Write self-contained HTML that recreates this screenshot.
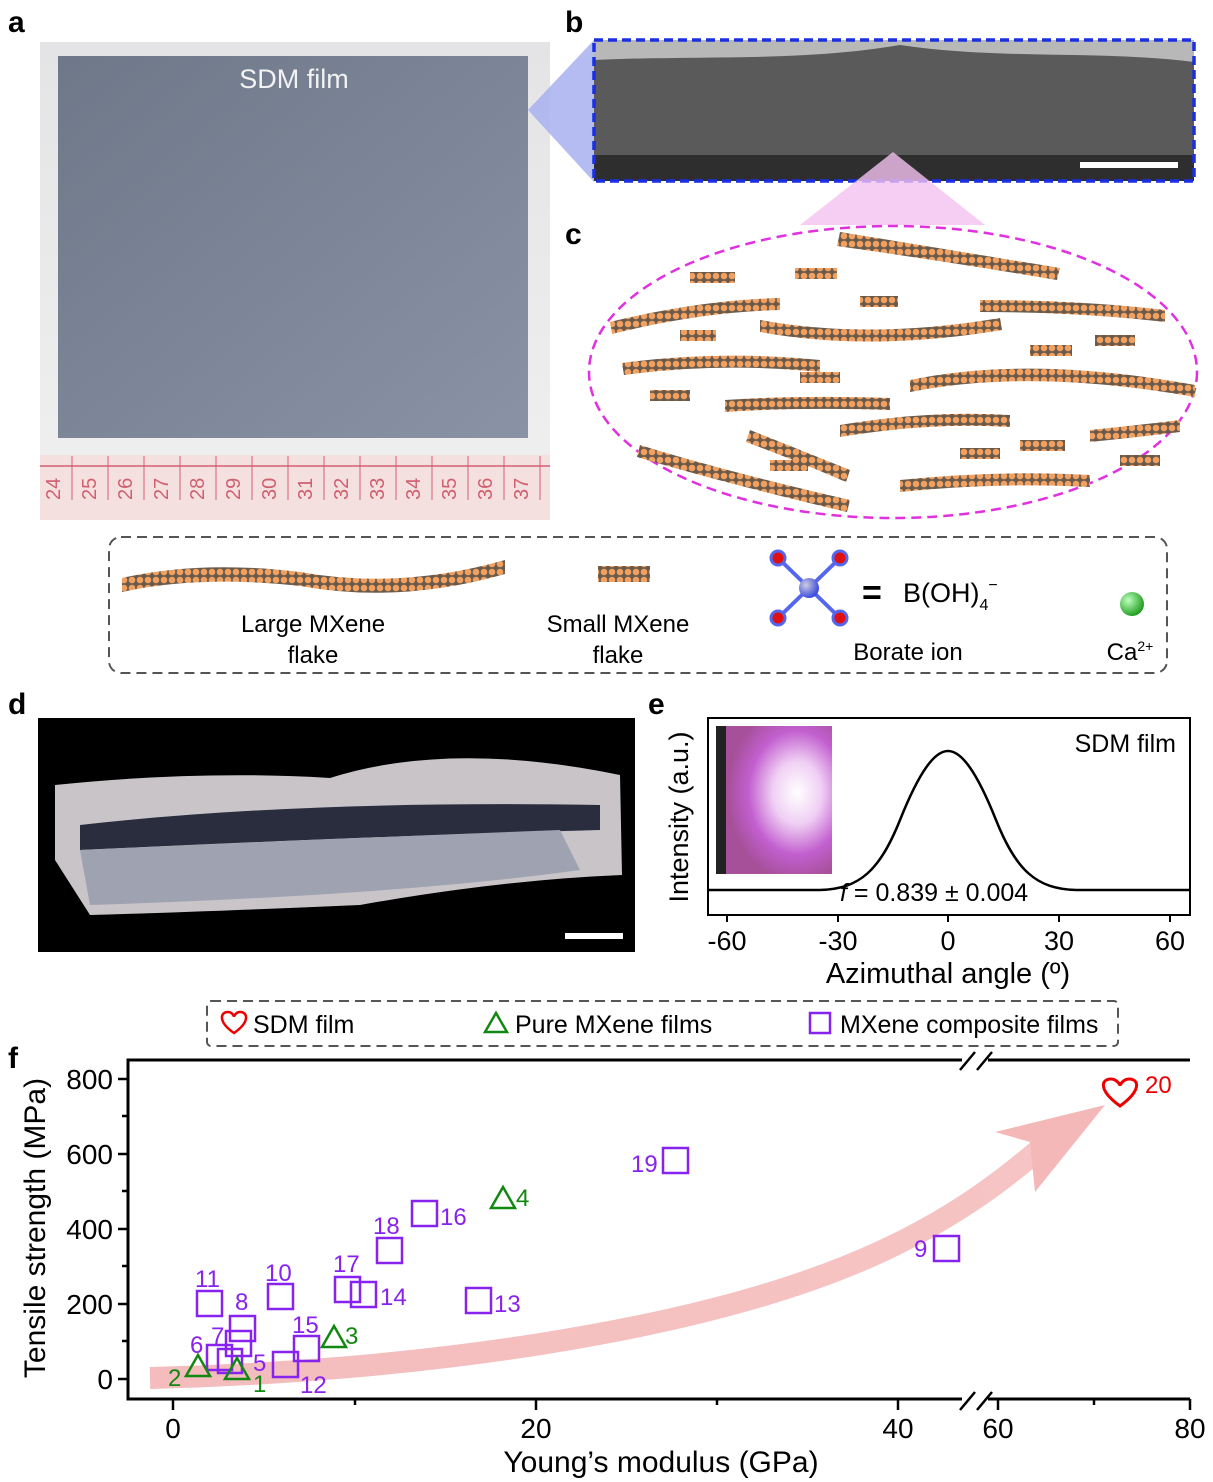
<!DOCTYPE html>
<html><head><meta charset="utf-8"><style>
body{margin:0;background:#fff;}
svg{display:block;font-family:"Liberation Sans",Arial,sans-serif;}
</style></head><body>
<svg width="1213" height="1482" viewBox="0 0 1213 1482" xmlns="http://www.w3.org/2000/svg">
<defs>
<linearGradient id="film" x1="0" y1="0" x2="1" y2="1"><stop offset="0" stop-color="#6e7889"/><stop offset="1" stop-color="#8993a5"/></linearGradient>
<linearGradient id="photobg" x1="0" y1="0" x2="0" y2="1"><stop offset="0" stop-color="#e4e4e6"/><stop offset="1" stop-color="#f1f0f0"/></linearGradient>
<linearGradient id="arr" x1="0" y1="0" x2="1" y2="0"><stop offset="0" stop-color="#f4bcbc"/><stop offset="1" stop-color="#f6c4c4"/></linearGradient>
<radialGradient id="inset" cx="0.7" cy="0.45" r="0.6"><stop offset="0" stop-color="#fff"/><stop offset="0.35" stop-color="#f0d0f4"/><stop offset="0.7" stop-color="#c25fcf"/><stop offset="1" stop-color="#a6509a"/></radialGradient>
<radialGradient id="ca" cx="0.35" cy="0.35" r="0.7"><stop offset="0" stop-color="#bfffbf"/><stop offset="1" stop-color="#1a9a1a"/></radialGradient>
<radialGradient id="bo" cx="0.35" cy="0.35" r="0.7"><stop offset="0" stop-color="#ccd"/><stop offset="1" stop-color="#3344dd"/></radialGradient>
<pattern id="flk" width="8" height="8" patternUnits="userSpaceOnUse"><rect width="8" height="8" fill="#6b5a4a"/><circle cx="4" cy="4" r="3.3" fill="#f0a060"/></pattern>
</defs>

<g font-weight="bold" font-size="30" fill="#000">
<text x="8" y="32">a</text><text x="565" y="32">b</text><text x="565" y="244">c</text>
<text x="8" y="714">d</text><text x="648" y="714">e</text><text x="8" y="1068">f</text>
</g>

<rect x="40" y="42" width="510" height="478" fill="url(#photobg)"/>
<rect x="58" y="56" width="470" height="382" fill="url(#film)"/>
<text x="294" y="88" font-size="27" fill="#f2f2f2" text-anchor="middle">SDM film</text>
<rect x="40" y="455" width="510" height="65" fill="#f5e0e0"/>
<line x1="40" y1="466" x2="550" y2="466" stroke="#d06070" stroke-width="1.5"/>
<g font-size="20" fill="#d06070">
<text transform="translate(60,500) rotate(-90)">24</text><text transform="translate(96,500) rotate(-90)">25</text><text transform="translate(132,500) rotate(-90)">26</text><text transform="translate(168,500) rotate(-90)">27</text><text transform="translate(204,500) rotate(-90)">28</text><text transform="translate(240,500) rotate(-90)">29</text><text transform="translate(276,500) rotate(-90)">30</text><text transform="translate(312,500) rotate(-90)">31</text><text transform="translate(348,500) rotate(-90)">32</text><text transform="translate(384,500) rotate(-90)">33</text><text transform="translate(420,500) rotate(-90)">34</text><text transform="translate(456,500) rotate(-90)">35</text><text transform="translate(492,500) rotate(-90)">36</text><text transform="translate(528,500) rotate(-90)">37</text>
</g>
<g stroke="#d06070" stroke-width="1">
<line x1="72" y1="456" x2="72" y2="500"/><line x1="108" y1="456" x2="108" y2="500"/><line x1="144" y1="456" x2="144" y2="500"/><line x1="180" y1="456" x2="180" y2="500"/><line x1="216" y1="456" x2="216" y2="500"/><line x1="252" y1="456" x2="252" y2="500"/><line x1="288" y1="456" x2="288" y2="500"/><line x1="324" y1="456" x2="324" y2="500"/><line x1="360" y1="456" x2="360" y2="500"/><line x1="396" y1="456" x2="396" y2="500"/><line x1="432" y1="456" x2="432" y2="500"/><line x1="468" y1="456" x2="468" y2="500"/><line x1="504" y1="456" x2="504" y2="500"/><line x1="540" y1="456" x2="540" y2="500"/>
</g>
<polygon points="528,110 594,40 594,182" fill="#a8b0f0" opacity="0.85"/>
<rect x="594" y="40" width="600" height="141" fill="#5a5a5a"/>
<path d="M594 40 H1194 V62 C1100 50 1000 60 900 45 C800 62 700 55 594 60Z" fill="#b8b8b8"/>
<rect x="594" y="155" width="600" height="26" fill="#2e2e2e"/>
<rect x="1080" y="162" width="98" height="6" fill="#fff"/>
<rect x="594" y="40" width="600" height="141" fill="none" stroke="#1a2fe0" stroke-width="3.5" stroke-dasharray="9,5"/>
<polygon points="893,152 800,225 985,225" fill="#f4c0f0" opacity="0.8"/>
<ellipse cx="893" cy="372" rx="304" ry="146" fill="#fff" stroke="#e030e0" stroke-width="2.5" stroke-dasharray="10,6"/>
<g fill="url(#flk)">
<path d="M840 232 Q950 250 1060 268 l-3 12 Q950 262 837 246Z"/>
<path d="M610 322 Q700 300 780 298 l0 12 Q700 312 612 334Z"/>
<path d="M760 320 Q870 340 1000 318 l2 12 Q870 352 760 332Z"/>
<path d="M980 300 Q1080 300 1165 310 l0 12 Q1080 312 980 312Z"/>
<path d="M622 363 Q720 350 820 360 l0 12 Q720 362 624 375Z"/>
<path d="M910 380 Q1030 355 1195 385 l0 12 Q1030 368 910 392Z"/>
<path d="M725 400 Q800 395 890 398 l0 12 Q800 407 725 412Z"/>
<path d="M840 425 Q930 410 1010 415 l0 12 Q930 422 840 437Z"/>
<path d="M750 430 Q800 450 850 470 l-4 12 Q800 462 746 442Z"/>
<path d="M640 445 Q720 470 850 500 l-3 12 Q720 482 637 457Z"/>
<path d="M900 480 Q1000 470 1090 475 l0 12 Q1000 482 900 492Z"/>
<path d="M1090 430 Q1140 425 1180 420 l0 12 Q1140 437 1090 442Z"/>
<rect x="690" y="272" width="45" height="11"/><rect x="795" y="268" width="42" height="11"/><rect x="860" y="296" width="38" height="11"/>
<rect x="650" y="390" width="40" height="11"/><rect x="1030" y="345" width="42" height="11"/><rect x="1095" y="335" width="40" height="11"/>
<rect x="960" y="448" width="40" height="11"/><rect x="1020" y="440" width="45" height="11"/><rect x="680" y="330" width="36" height="11"/>
<rect x="770" y="460" width="38" height="11"/><rect x="1120" y="455" width="40" height="11"/><rect x="800" y="372" width="40" height="11"/>
</g>
<rect x="109" y="537" width="1058" height="136" rx="12" fill="none" stroke="#555" stroke-width="2" stroke-dasharray="10,6"/>
<path d="M122 578 Q200 560 300 572 Q400 590 505 560 l0 14 Q400 604 300 586 Q200 575 122 592Z" fill="url(#flk)"/>
<rect x="598" y="566" width="52" height="16" fill="url(#flk)"/>
<g font-size="24" fill="#000" text-anchor="middle">
<text x="313" y="632">Large MXene</text><text x="313" y="663">flake</text>
<text x="618" y="632">Small MXene</text><text x="618" y="663">flake</text>
<text x="908" y="660">Borate ion</text>
<text x="1130" y="660">Ca<tspan font-size="14" dy="-9">2+</tspan></text>
</g>
<g stroke="#5566ee" stroke-width="4"><line x1="776" y1="556" x2="842" y2="620"/><line x1="842" y1="556" x2="776" y2="620"/></g>
<circle cx="809" cy="588" r="10" fill="url(#bo)"/>
<g fill="#e01010" stroke="#5566ee" stroke-width="3"><circle cx="778" cy="558" r="7"/><circle cx="840" cy="558" r="7"/><circle cx="778" cy="618" r="7"/><circle cx="840" cy="618" r="7"/></g>
<text x="862" y="604" font-size="34" font-weight="bold">=</text>
<text x="903" y="602" font-size="27">B(OH)<tspan font-size="16" dy="8">4</tspan><tspan font-size="16" dy="-20">−</tspan></text>
<circle cx="1132" cy="604" r="12" fill="url(#ca)"/>

<rect x="38" y="718" width="597" height="234" fill="#000"/>
<path d="M55 785 Q200 770 330 778 Q450 740 620 775 L622 875 Q500 880 360 905 Q200 912 90 915 L55 860Z" fill="#c9c4c8"/>
<path d="M80 825 Q300 800 600 805 L600 830 Q400 835 80 850Z" fill="#2a2d3e"/>
<path d="M80 850 Q300 840 560 830 L580 870 Q400 895 90 905Z" fill="#9fa2b0"/>
<rect x="565" y="933" width="58" height="6" fill="#fff"/>

<rect x="708" y="718" width="482" height="197" fill="#fff" stroke="#000" stroke-width="2"/>
<rect x="716" y="726" width="116" height="148" fill="url(#inset)"/>
<rect x="716" y="726" width="10" height="148" fill="#222"/>
<path d="M709 890 L820 890 C860 889 880 870 900 820 C920 770 935 751 948 751 C961 751 976 770 996 820 C1016 870 1036 889 1076 890 L1189 890" fill="none" stroke="#000" stroke-width="2.5"/>
<text x="1176" y="752" font-size="25" text-anchor="end">SDM film</text>
<text x="840" y="901" font-size="25"><tspan font-style="italic">f</tspan> = 0.839 ± 0.004</text>
<text transform="translate(688,817) rotate(-90)" font-size="27" text-anchor="middle">Intensity (a.u.)</text>
<g stroke="#000" stroke-width="2"><line x1="727" y1="915" x2="727" y2="922"/><line x1="838" y1="915" x2="838" y2="922"/><line x1="948" y1="915" x2="948" y2="922"/><line x1="1059" y1="915" x2="1059" y2="922"/><line x1="1170" y1="915" x2="1170" y2="922"/></g>
<g font-size="27" text-anchor="middle"><text x="727" y="950">-60</text><text x="838" y="950">-30</text><text x="948" y="950">0</text><text x="1059" y="950">30</text><text x="1170" y="950">60</text></g>
<text x="948" y="983" font-size="29" text-anchor="middle">Azimuthal angle (º)</text>

<rect x="207" y="1001" width="911" height="45" rx="4" fill="none" stroke="#555" stroke-width="2" stroke-dasharray="10,6"/>
<path d="M234 1033 C218 1022 220 1012 228 1012 C232 1012 234 1016 234 1017 C234 1016 236 1012 240 1012 C248 1012 250 1022 234 1033Z" fill="none" stroke="#e00" stroke-width="2.5"/>
<text x="253" y="1033" font-size="25">SDM film</text>
<polygon points="496,1013 485,1032 507,1032" fill="none" stroke="#118811" stroke-width="2.5"/>
<text x="515" y="1033" font-size="25">Pure MXene films</text>
<rect x="810" y="1013" width="20" height="20" fill="none" stroke="#8822ee" stroke-width="2.5"/>
<text x="840" y="1033" font-size="25">MXene composite films</text>

<path d="M150 1378 C400 1372 700 1335 880 1252 C960 1215 1010 1175 1050 1140" fill="none" stroke="url(#arr)" stroke-width="22"/>
<polygon points="1105,1105 995,1132 1030,1142 1035,1192" fill="#f4b8b8"/>
<path d="M1190 1060 H128 V1399 H1190" stroke="#000" stroke-width="3" fill="none"/>
<rect x="962" y="1050" width="26" height="20" fill="#fff"/><rect x="962" y="1390" width="26" height="20" fill="#fff"/>
<g stroke="#000" stroke-width="2.5"><line x1="960" y1="1070" x2="975" y2="1052"/><line x1="977" y1="1070" x2="992" y2="1052"/><line x1="960" y1="1410" x2="975" y2="1392"/><line x1="977" y1="1410" x2="992" y2="1392"/></g>
<g stroke="#000" stroke-width="2.5">
<line x1="118" y1="1079" x2="128" y2="1079"/><line x1="118" y1="1154" x2="128" y2="1154"/><line x1="118" y1="1229" x2="128" y2="1229"/><line x1="118" y1="1304" x2="128" y2="1304"/><line x1="118" y1="1379" x2="128" y2="1379"/>
<line x1="122" y1="1116" x2="128" y2="1116"/><line x1="122" y1="1191" x2="128" y2="1191"/><line x1="122" y1="1266" x2="128" y2="1266"/><line x1="122" y1="1341" x2="128" y2="1341"/>
<line x1="173" y1="1399" x2="173" y2="1410"/><line x1="355" y1="1399" x2="355" y2="1405"/><line x1="536" y1="1399" x2="536" y2="1410"/><line x1="717" y1="1399" x2="717" y2="1405"/><line x1="898" y1="1399" x2="898" y2="1410"/><line x1="998" y1="1399" x2="998" y2="1410"/><line x1="1094" y1="1399" x2="1094" y2="1405"/><line x1="1190" y1="1399" x2="1190" y2="1410"/>
</g>
<g font-size="28" text-anchor="end"><text x="113" y="1089">800</text><text x="113" y="1164">600</text><text x="113" y="1239">400</text><text x="113" y="1314">200</text><text x="113" y="1389">0</text></g>
<g font-size="28" text-anchor="middle"><text x="173" y="1438">0</text><text x="536" y="1438">20</text><text x="898" y="1438">40</text><text x="998" y="1438">60</text><text x="1190" y="1438">80</text></g>
<text x="661" y="1472" font-size="30" text-anchor="middle">Young’s modulus (GPa)</text>
<text transform="translate(45,1228) rotate(-90)" font-size="30" text-anchor="middle">Tensile strength (MPa)</text>

<g fill="none" stroke="#8822ee" stroke-width="2.5">
<rect x="197" y="1291" width="25" height="25"/><rect x="230" y="1316" width="25" height="25"/><rect x="226" y="1331" width="25" height="25"/><rect x="207" y="1345" width="25" height="25"/><rect x="218" y="1349" width="24" height="24"/>
<rect x="268" y="1284" width="25" height="25"/><rect x="294" y="1336" width="25" height="25" /><rect x="273" y="1352" width="25" height="25"/>
<rect x="335" y="1277" width="25" height="25"/><rect x="351" y="1282" width="25" height="25"/><rect x="377" y="1238" width="25" height="25"/><rect x="412" y="1201" width="25" height="25"/><rect x="466" y="1288" width="25" height="25"/>
<rect x="663" y="1148" width="25" height="25"/><rect x="934" y="1236" width="25" height="25"/>
</g>
<g fill="none" stroke="#118811" stroke-width="2.5">
<polygon points="198,1355 186,1376 210,1376"/><polygon points="237,1358 225,1379 249,1379"/><polygon points="334,1326 322,1347 346,1347"/><polygon points="503,1187 491,1208 515,1208"/>
</g>
<path d="M1120 1106 C1098 1090 1101 1079 1111 1079 C1116 1079 1120 1084 1120 1086 C1120 1084 1124 1079 1129 1079 C1139 1079 1142 1090 1120 1106Z" fill="none" stroke="#e00" stroke-width="3"/>
<g font-size="24" fill="#8822ee">
<text x="195" y="1287">11</text><text x="235" y="1310">8</text><text x="211" y="1344">7</text><text x="190" y="1353">6</text><text x="253" y="1371">5</text>
<text x="265" y="1281">10</text><text x="292" y="1333">15</text><text x="300" y="1393">12</text>
<text x="333" y="1272">17</text><text x="380" y="1305">14</text><text x="373" y="1234">18</text><text x="440" y="1225">16</text><text x="494" y="1312">13</text>
<text x="631" y="1172">19</text><text x="914" y="1257">9</text>
</g>
<g font-size="24" fill="#118811"><text x="168" y="1386">2</text><text x="253" y="1392">1</text><text x="345" y="1344">3</text><text x="516" y="1206">4</text></g>
<text x="1145" y="1093" font-size="24" fill="#e00">20</text>
</svg>
</body></html>
